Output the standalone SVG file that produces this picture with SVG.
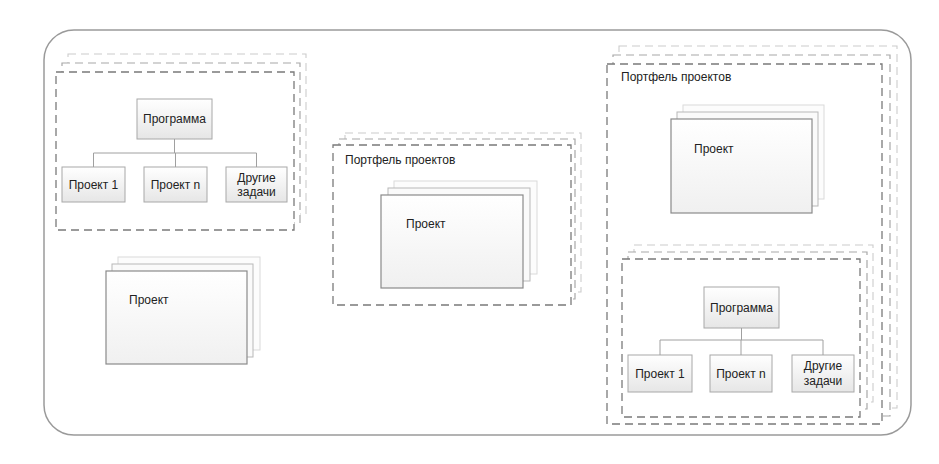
<svg xmlns="http://www.w3.org/2000/svg" width="939" height="464" viewBox="0 0 939 464">
<defs>
<linearGradient id="g" x1="0" y1="0" x2="0" y2="1">
<stop offset="0" stop-color="#ffffff"/>
<stop offset="1" stop-color="#e6e6e6"/>
</linearGradient>
<linearGradient id="gc" x1="0" y1="0" x2="0" y2="1">
<stop offset="0" stop-color="#ffffff"/>
<stop offset="1" stop-color="#f0f0f0"/>
</linearGradient>
</defs>
<style>
.frame{fill:#fff;stroke:#9a9a9a;stroke-width:1.5}
.d1{fill:#fff;stroke:#7a7a7a;stroke-width:1.3;stroke-dasharray:8,5}
.d2{fill:#fff;stroke:#a8a8a8;stroke-width:1.2;stroke-dasharray:8,5}
.d3{fill:#fff;stroke:#cccccc;stroke-width:1.1;stroke-dasharray:8,5}
.box{fill:url(#g);stroke:#a8a8a8;stroke-width:1}
.c1{fill:url(#gc);stroke:#8a8a8a;stroke-width:1.2}
.c2{fill:#fafafa;stroke:#b8b8b8;stroke-width:1}
.c3{fill:#fcfcfc;stroke:#dadada;stroke-width:1}
.ln{fill:none;stroke:#a0a0a0;stroke-width:1}
text{font-family:"Liberation Sans",Arial,sans-serif;font-size:12px;fill:#222}
.m{text-anchor:middle}
</style>
<rect class="frame" x="44" y="30" width="867" height="405" rx="30"/>

<g id="program-left">
<rect class="d3" x="68" y="54" width="238" height="160"/>
<rect class="d2" x="62" y="63" width="238" height="160"/>
<rect class="d1" x="56" y="72" width="238" height="158"/>
<g id="pl-programma"><rect class="box" x="137" y="99" width="75" height="40"/><text class="m" x="174.5" y="123">Программа</text></g>
<g id="pl-p1"><rect class="box" x="62" y="167" width="63" height="35"/><text class="m" x="93.5" y="189">Проект 1</text></g>
<g id="pl-pn"><rect class="box" x="144" y="167" width="63" height="35"/><text class="m" x="175.5" y="189">Проект n</text></g>
<g id="pl-other"><rect class="box" x="226" y="167" width="61" height="35"/><text class="m" x="256.5" y="182">Другие</text><text class="m" x="256.5" y="196">задачи</text></g>
</g>

<g id="project-left">
<rect class="c3" x="118" y="257" width="142" height="93"/>
<rect class="c2" x="112" y="264" width="141" height="93"/>
<rect class="c1" x="106" y="271" width="141" height="93"/>
<text x="129" y="304">Проект</text>
</g>

<g id="portfolio-middle">
<rect class="d3" x="345" y="133" width="236" height="159"/>
<rect class="d2" x="339" y="139" width="236" height="160"/>
<rect class="d1" x="333" y="145" width="238" height="160"/>
<text x="345" y="164">Портфель проектов</text>
<rect class="c3" x="394" y="181" width="143" height="93"/>
<rect class="c2" x="388" y="188" width="142" height="93"/>
<rect class="c1" x="381" y="195" width="142" height="93"/>
<text x="406" y="228">Проект</text>
</g>

<g id="portfolio-right">
<rect class="d3" x="619" y="46" width="278" height="362"/>
<rect class="d2" x="613" y="55" width="277" height="361"/>
<rect class="d1" x="607" y="64" width="275" height="360"/>
<text x="621" y="81">Портфель проектов</text>
<g id="pr-project">
<rect class="c3" x="683" y="105" width="141" height="94"/>
<rect class="c2" x="677" y="112" width="141" height="94"/>
<rect class="c1" x="671" y="119" width="141" height="94"/>
<text x="694" y="153">Проект</text>
</g>
<g id="pr-program">
<rect class="d3" x="634" y="245" width="239" height="157"/>
<rect class="d2" x="628" y="252" width="239" height="157"/>
<rect class="d1" x="622" y="259" width="238" height="158"/>
<g id="pr-programma"><rect class="box" x="704" y="287" width="75" height="41"/><text class="m" x="741.5" y="312">Программа</text></g>
<g id="pr-p1"><rect class="box" x="628" y="355" width="64" height="37"/><text class="m" x="660" y="378">Проект 1</text></g>
<g id="pr-pn"><rect class="box" x="710" y="355" width="62" height="37"/><text class="m" x="741" y="378">Проект n</text></g>
<g id="pr-other"><rect class="box" x="792" y="355" width="62" height="37"/><text class="m" x="823" y="370">Другие</text><text class="m" x="823" y="385">задачи</text></g>
</g>
</g>

<g id="connectors">
<path class="ln" d="M174.5 139V153M93.5 153H256.5M93.5 153V167M175.5 153V167M256.5 153V167"/>
<path class="ln" d="M741.5 328V340M660 340H823M660 340V355M741 340V355M823 340V355"/>
</g>
</svg>
